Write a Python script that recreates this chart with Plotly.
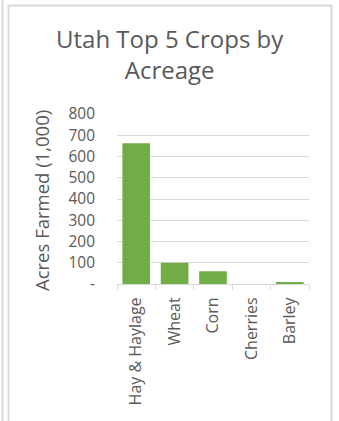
import plotly.graph_objects as go

crops = ["Hay & Haylage", "Wheat", "Corn", "Cherries", "Barley"]
acres = [662, 100, 60, 0, 8]
ytick_vals = [0, 100, 200, 300, 400, 500, 600, 700, 800]
ytick_text = ["-", "100", "200", "300", "400", "500", "600", "700", "800"]

W, H = 339, 421
L, R, T, B = 117, 30, 114, 137
pw, ph = W - L - R, H - T - B

def px(x):
    return (x - L) / pw

def py(y):
    return (H - B - y) / ph

fig = go.Figure(go.Bar(
    x=crops, y=acres, marker_color="#70AD47", marker_line_width=0, width=0.72
))

grey = "#595959"
line = "#d9d9d9"
font = "Open Sans"

fig.update_layout(
    width=W, height=H,
    margin=dict(l=L, r=R, t=T, b=B),
    paper_bgcolor="white", plot_bgcolor="white",
    showlegend=False,
    font=dict(family=font, color=grey),
    xaxis=dict(
        tickangle=-90, tickfont=dict(size=16, color=grey, family=font),
        showgrid=False, showline=True, linecolor=line, linewidth=1,
        ticks="outside", tickson="boundaries", ticklen=5, tickcolor=line,
        ticklabelstandoff=6,
        fixedrange=True,
    ),
    yaxis=dict(
        range=[0, 800], tickvals=ytick_vals, ticktext=ytick_text,
        tickfont=dict(size=15.5, color=grey, family=font),
        showgrid=True, gridcolor=line, gridwidth=1,
        zeroline=False, showline=False, ticks="",
        ticklabelstandoff=21,
    ),
    annotations=[
        dict(text="Utah Top 5 Crops by<br>Acreage", x=px(170), y=py(54),
             xref="paper", yref="paper", showarrow=False,
             xanchor="center", yanchor="middle",
             font=dict(size=24, color=grey, family=font)),
        dict(text="Acres Farmed (1,000)", x=px(41), y=py(201),
             xref="paper", yref="paper", showarrow=False, textangle=-90,
             xanchor="center", yanchor="middle",
             font=dict(size=18.5, color=grey, family=font)),
    ],
    shapes=[
        dict(type="line", xref="paper", yref="paper",
             x0=px(2.5), x1=px(2.5), y0=py(-5), y1=py(430),
             line=dict(color=line, width=2)),
        dict(type="rect", xref="paper", yref="paper",
             x0=px(8.5), x1=px(331.5), y0=py(5.5), y1=py(440),
             line=dict(color=line, width=2)),
    ],
)

fig.write_html("out.html")
